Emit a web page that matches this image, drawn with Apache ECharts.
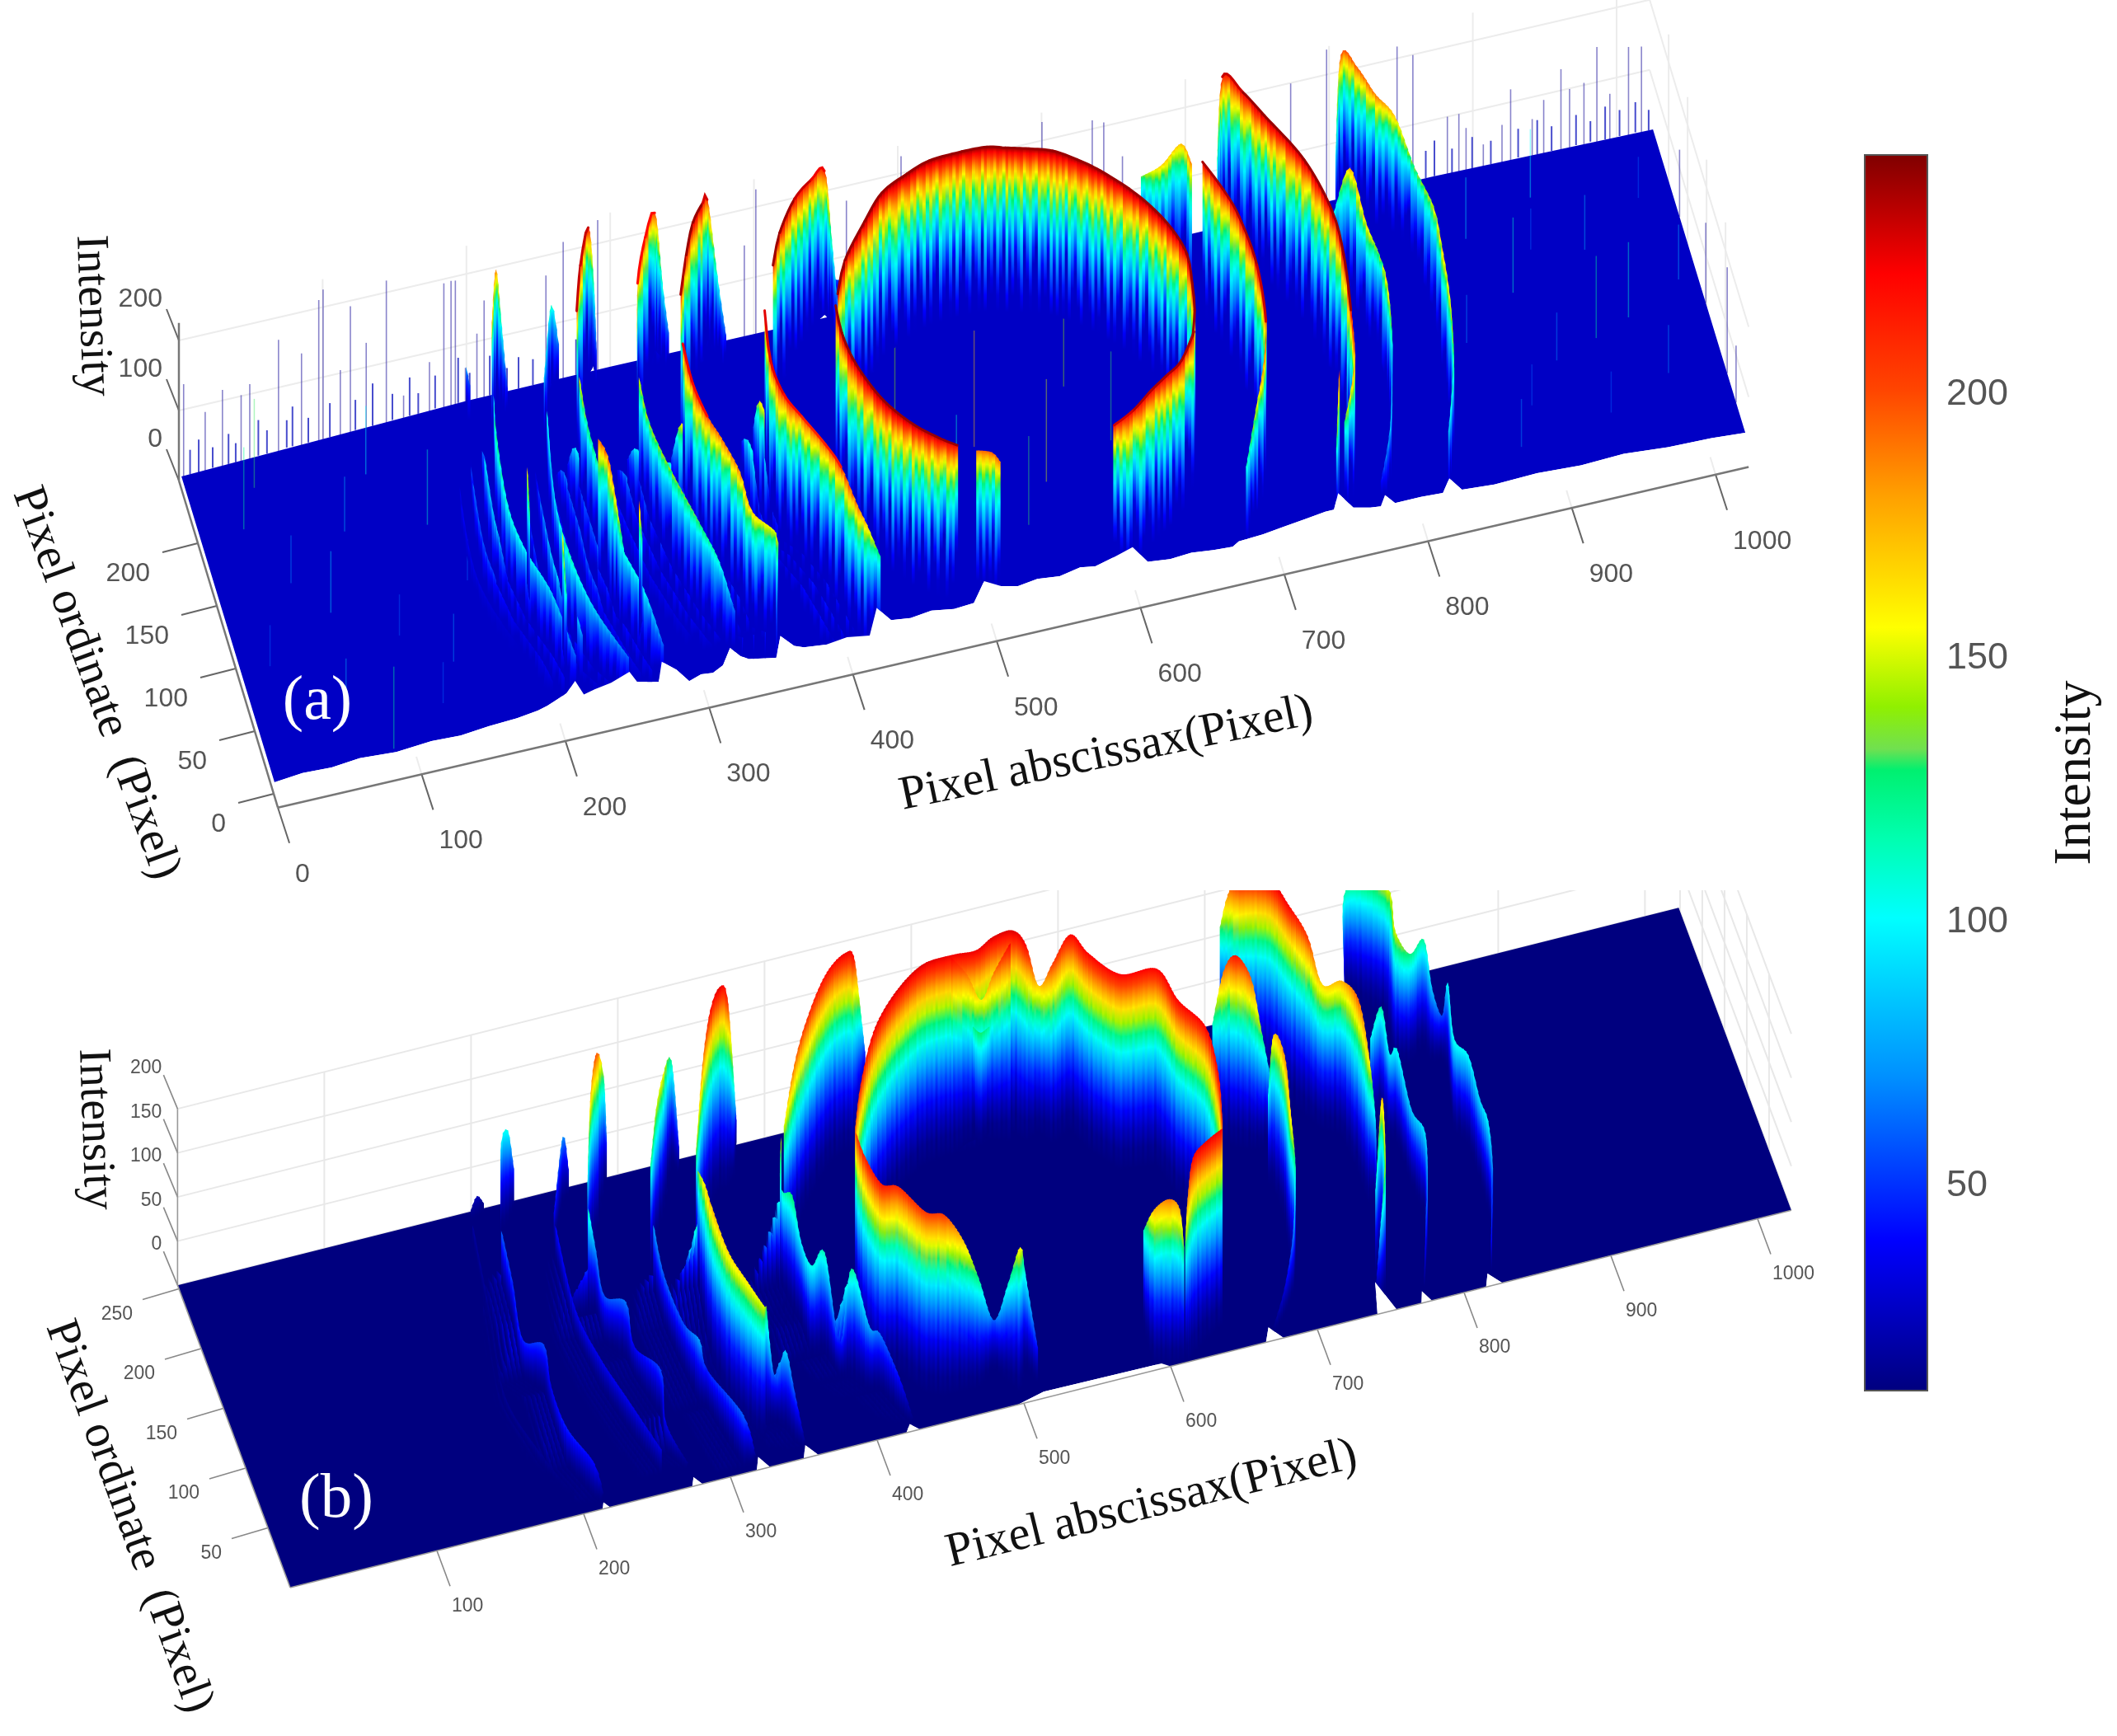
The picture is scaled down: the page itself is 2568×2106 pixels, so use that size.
<!DOCTYPE html>
<html>
<head>
<meta charset="utf-8">
<title>Intensity surfaces</title>
<style>html,body{margin:0;background:#fff}#chart{width:2568px;height:2106px}</style>
<script src="https://cdn.jsdelivr.net/npm/echarts@6/dist/echarts.min.js"></script>
</head>
<body>
<div id="chart"></div>
<script>
// colour scale
var colorValues = [10.5, 39, 70, 100, 115, 128, 132, 140, 155, 180, 200, 222, 244.5];
var colorHex = ['#00007f', '#0000ff', '#0090ff', '#00ffff', '#00ffb0', '#00f070', '#70e050', '#90f000', '#ffff00', '#ffa000', '#ff4500', '#ff0000', '#800000'];
var barTicks = [50, 100, 150, 200];

var xTicks = [0, 100, 200, 300, 400, 500, 600, 700, 800, 900, 1000];
var xTicksB = [100, 200, 300, 400, 500, 600, 700, 800, 900, 1000];
var yTicksA = [0, 50, 100, 150, 200];
var yTicksB = [50, 100, 150, 200, 250];
var zTicksA = [0, 100, 200];
var zTicksB = [0, 50, 100, 150, 200];
var streaksA = [1, .74, .93, .62, .97, .82, .68, .9, 1, .78, .64, .86, .98, .72, .91, .6, .8, 1, .7, .95, .76, .63, .99, .84, .73, .92, .66, 1, .79, .6, .88, .96, .69, .81, .93, .61, 1, .75, .85, .65, .94, .8, .6, 1, .72, .89, .67, .83, .98, .62, .79, .92, .71, .6, .95, .77, .87, .66, 1, .74];
var streaksB = [1, .97, .99, .95, 1, .96, .98, 1, .94, .99, .97, 1, .95, .98, .96, 1, .93];

// panel (a) : ridge crests as [pixel abscissa, pixel ordinate, intensity]
var aFill1 = [[322,252,40],[336,250,40]];
var aFill2 = [[360,252,40],[372,250,40]];
var aFill3 = [[455,258,50],[470,252,50]];
var aR9 = [[196,245,75],[198,243,50]];
var aR7Back = [[206,214,190],[219,254,190],[222,250,110],[223,239,40]];
var aR8Back = [[241,209,100],[258,256,115],[261,248,70]];
var aR6Back = [[260,194,215],[270,223,225],[284,256,215],[289,262,120],[287,247,50]];
var aR5Back = [[296,170,190],[307,212,200],[319,238,215],[332,263,200],[335,255,110],[336,242,60]];
var aR3BackL = [[330,185,220],[340,209,230],[350,230,235],[361,246,230],[368,261,205],[372,250,110],[374,235,50]];
var aR2BackL = [[395,188,225],[405,209,230],[422,235,225],[438,252,215],[449,259,210],[452,252,120],[452,232,50],[458,245,45]];
var aR4Right = [[797,230,110],[808,259,200],[817,249,195],[824,228,190],[835,218,170],[843,197,130],[845,152,150],[840,111,170],[836,72,160],[829,35,130],[819,8,90]];
var aR4Inner = [[786,192,100],[795,184,175],[796,144,165],[803,135,130],[797,90,170],[795,69,120],[783,25,90],[772,8,40]];
var aR3Right = [[717,239,130],[725,256,215],[734,235,225],[742,208,235],[759,167,235],[767,123,235],[766,87,235],[761,48,225],[757,23,190],[748,13,130]];
var aMid = [[664,239,130],[674,223,170],[691,236,170],[691,208,190]];
var aR2Right = [[694,189,225],[702,164,225],[707,140,225],[709,100,225],[705,60,215],[698,39,190],[690,28,150],[678,7,110]];
var aRing1Back = [[430,149,235],[441,172,238],[461,197,240],[478,216,240],[498,226,240],[515,232,240],[538,233,240],[555,232,240],[567,228,240],[582,223,240],[597,217,240],[611,206,240],[624,193,240],[639,174,240],[650,156,240],[659,135,240],[664,114,238],[662,92,235],[659,74,230],[653,56,225]];
var aRing1FrontR = [[655,60,225],[641,40,225],[628,31,225],[616,23,225],[600,12,222],[586,8,215]];
var aRing1FrontL = [[427,143,230],[425,118,235],[427,93,238],[434,68,238],[442,50,238],[454,34,235],[468,21,232],[479,16,225]];
var aSpur = [[495,27,190],[504,20,195],[508,14,190]];
var aR2FrontL = [[382,160,215],[376,120,215],[378,92,215],[387,80,200],[397,54,200],[402,31,205],[407,6,190],[412,0,170],[421,0,120]];
var aR3FrontL = [[323,152,210],[321,117,215],[326,97,200],[332,83,190],[338,56,185],[340,32,170],[354,21,150],[349,0,150]];
var aH6 = [[744,12,210],[739,0,120]];
var aR5Front = [[296,166,150],[295,134,140],[300,92,140],[309,54,130],[317,30,110],[324,16,60]];
var aR6Front = [[256,172,160],[256,151,130],[256,112,120],[255,71,110],[264,28,100],[271,3,60]];
var aH1 = [[252,105,190],[254,87,195],[254,65,170],[258,57,100]];
var aH4 = [[265,45,200],[270,57,120]];
var aR8Front = [[235,178,110],[226,123,90],[220,62,120],[229,30,90],[246,0,60]];
var aR7Front = [[205,205,100],[195,160,130],[191,112,110],[195,80,100],[205,47,90],[212,11,60]];
var aH2 = [[203,107,170],[201,93,130]];
var aH3 = [[213,50,170],[210,28,120]];
var aH5 = [[217,25,90],[219,20,70]];

// outline of the floor of (a), read along its front and back edges
var aFrontEdge = [[0,0],[20,2],[40,1],[60,3],[85,1],[110,3],[130,2],[150,4],[170,5],[185,7],[192,9],[197,11],[207,15],[215,23],[218,11],[226,13],[238,15],[252,20],[255,11],[262,9],[269,7],[275,22],[283,13],[289,2],[298,5],[306,4],[314,8],[322,20],[327,12],[332,8],[341,6],[350,4],[357,20],[364,10],[370,7],[385,5],[400,7],[415,4],[425,24],[432,12],[445,10],[460,12],[475,9],[489,10],[500,25],[510,18],[521,15],[535,17],[550,15],[565,18],[575,16],[590,20],[603,24],[610,10],[625,8],[640,9],[655,7],[668,6],[673,9],[690,10],[705,12],[720,14],[735,16],[741,16],[747,28],[754,14],[765,11],[772,10],[777,18],[782,10],[800,10],[815,9],[822,19],[828,8],[850,6],[880,7],[910,5],[940,6],[970,3],[1000,2],[1023,0]];
var aBackEdge = [[1023,250],[870,254],[700,254],[400,257],[300,258],[200,258],[100,255],[0,252]];

// thin spikes along the back and right edges of (a), and thin streaks on its floor
var aBackSpikes = [[1,250,138],[16,250,90],[28,250,116],[41,250,102],[47,250,115],[67,250,170],[83,250,142],[95,250,214],[98,250,228],[110,250,104],[117,250,194],[128,250,135],[142,250,219],[154,250,45],[172,250,85],[182,250,195],[187,250,196],[190,250,195],[197,250,64],[205,250,110],[210,250,156],[253,250,171],[265,250,214],[289,250,234],[391,250,146],[399,250,224],[462,250,176],[500,250,222],[598,250,223],[633,250,208],[641,250,201],[654,250,145],[771,250,193],[796,250,230],[845,250,210],[856,250,192],[880,250,90],[888,250,90],[893,250,67],[905,250,37],[918,250,59],[924,250,108],[939,250,57],[947,250,81],[959,250,120],[965,250,88],[975,250,92],[984,250,140],[993,250,67],[1006,250,129],[1015,250,125],[1023,178,98],[1023,107,117],[1023,49,155],[1023,25,83]];
var aEdgeFuzz = [[6,252,36],[12,252,48],[22,253,30],[33,253,44],[38,253,28],[54,254,52],[60,254,34],[74,255,40],[78,255,58],[89,255,36],[104,255,50],[122,256,44],[134,256,62],[148,257,38],[160,257,56],[166,257,30],[178,258,48],[194,258,66],[202,258,40],[216,258,58],[228,258,34],[236,258,46],[246,258,38],[276,258,52],[866,254,40],[872,254,52],[884,253,36],[898,253,46],[911,253,34],[930,253,42],[943,252,50],[953,252,36],[970,252,44],[980,252,30],[990,251,48],[1000,251,38],[1011,251,44],[1020,250,30]];
var aFloorStreaks = [[30,200,120],[50,150,70],[70,120,90],[84,4,120],[95,180,80],[110,90,60],[120,220,100],[140,60,70],[150,170,110],[165,120,60],[20,90,60],[60,40,80],[45,230,130],[125,30,60],[860,120,70],[880,200,90],[890,60,60],[900,150,110],[915,90,70],[930,220,100],[940,40,60],[955,170,80],[970,110,110],[985,60,70],[1000,200,60],[1010,130,80],[875,30,70],[945,100,120],[920,180,60],[520,130,170],[560,90,150],[540,60,130],[590,160,140],[500,100,110],[470,150,140],[610,110,130]];

// panel (b) : ridge crests
var bR8Back = [[197,244,15],[202,247,25],[207,249,12]];
var bR7Back = [[207,209,60],[214,232,100],[220,237,105],[227,247,45]];
var bR6Back = [[243,209,40],[259,242,75],[264,246,30]];
var bR5Back = [[259,186,100],[265,199,180],[273,212,205],[287,243,130],[292,253,40]];
var bR4Back = [[297,170,125],[308,194,150],[318,212,160],[335,249,120],[338,242,30]];
var bR3Back = [[326,163,140],[339,192,190],[350,211,222],[360,223,228],[365,222,215],[372,229,95],[381,255,25]];
var bR2Back = [[384,157,150],[393,168,190],[406,188,205],[423,209,218],[436,222,222],[447,227,225],[452,225,222],[463,247,130],[473,269,45]];
var bR4Right = [[784,214,85],[795,250,120],[815,224,150],[810,189,150],[819,185,125],[832,197,120],[833,182,85],[840,182,50],[841,173,100],[831,126,105],[837,113,100],[836,84,90],[834,59,100],[831,39,75],[821,7,40]];
var bR4Inner = [[780,145,100],[790,154,120],[789,132,95],[793,129,105],[792,93,85],[793,65,95],[784,31,70],[775,7,5]];
var bR3Right = [[706,239,130],[707,225,185],[711,213,215],[728,202,225],[735,180,222],[743,164,205],[749,152,165],[760,144,175],[762,113,195],[761,87,170],[766,88,90],[766,88,30]];
var bSliver = [[748,28,100],[758,47,175],[750,13,145],[745,6,85],[745,16,5]];
var bR2Right = [[683,180,110],[685,163,190],[691,155,218],[700,150,195],[706,148,140],[716,156,60]];
var bR2b = [[703,121,100],[706,119,170],[705,91,185],[699,58,170],[699,47,120],[694,33,70],[683,17,30],[670,2,8]];
var bRingBack = [[418,109,200],[428,130,215],[446,161,225],[467,184,228],[491,201,228],[513,205,225],[529,204,225],[542,209,228],[556,210,228],[562,200,222],[572,205,165],[578,193,205],[592,200,222],[599,182,222],[614,160,222],[638,157,222],[644,129,222],[655,103,222],[652,65,222],[647,40,205]];
var bRingDip = [[512,203,225],[525,210,190],[535,212,155],[542,207,190],[552,203,225]];
var bRingTongue = [[531,217,120],[532,204,130],[541,214,120]];
var bRingFrontR = [[642,22,222],[628,13,225],[617,5,222],[612,0,185],[612,5,130]];
var bHump = [[592,35,110],[590,5,175],[599,0,190],[606,0,175],[609,1,130]];
var bRingFrontL = [[417,105,200],[414,73,215],[418,50,215],[429,48,210],[441,27,205],[452,21,205],[465,21,170],[475,20,125],[489,32,55],[495,20,110],[500,9,165],[509,27,105],[513,13,40]];
var bR2Front = [[380,149,150],[376,136,110],[377,116,130],[379,103,95],[378,75,105],[387,76,115],[391,55,40],[398,52,125],[406,38,75],[413,37,65],[420,16,40],[426,3,5]];
var bR3Front = [[324,153,130],[318,117,165],[315,91,175],[317,61,165],[323,38,160],[330,22,150],[334,33,135],[340,33,50],[345,26,90],[348,14,55],[353,6,5]];
var bR4Front = [[295,157,75],[293,127,60],[295,90,55],[297,60,75],[301,56,45],[310,4,60],[319,5,5]];
var bR5Front = [[249,152,120],[254,151,70],[252,126,55],[262,110,65],[263,95,35],[270,58,55],[265,30,35],[277,8,5]];
var bR6Front = [[241,199,40],[235,136,35],[239,93,35],[247,54,35],[257,14,30]];
var bR7Front = [[202,192,60],[199,157,50],[193,115,45],[203,100,55],[202,81,35],[200,39,45],[210,9,40],[215,4,5]];
var bR8Front = [[194,230,18],[185,162,15],[175,96,15],[183,48,15],[196,10,10]];

// front edge of the floor of (b) with its small notches
var bFrontEdge = [[0,0],[213,0],[215,5],[218,0],[274,0],[277,7],[281,0],[318,0],[322,10],[327,0],[350,0],[354,10],[360,0],[420,0],[424,6],[429,0],[496,0],[515,5],[595,4],[600,0],[665,0],[670,11],[677,0],[741,0],[747,25],[754,0],[771,0],[774,9],[778,0],[815,0],[819,10],[826,0],[1023,0]];
var bBackEdge = [[1023,253],[0,253]];

var ridgesA = [aFill1, aFill2, aFill3, aR9, aR7Back, aR8Back, aR6Back, aR5Back, aR3BackL, aR2BackL, aR4Right, aR4Inner, aR3Right, aMid, aR2Right, aRing1Back, aRing1FrontR, aRing1FrontL, aSpur, aR2FrontL, aR3FrontL, aH6, aR5Front, aR6Front, aH1, aH4, aR8Front, aR7Front, aH2, aH3, aH5];
var ridgesB = [bR8Back, bR7Back, bR6Back, bR5Back, bR4Back, bR3Back, bR2Back, bR4Right, bR4Inner, bR3Right, bSliver, bR2Right, bR2b, bRingBack, bRingDip, bRingTongue, bRingFrontR, bHump, bRingFrontL, bR2Front, bR3Front, bR4Front, bR5Front, bR6Front, bR7Front, bR8Front];
var flankedA = [aR2FrontL, aR3FrontL, aR5Front, aR6Front, aR8Front, aR7Front];
var flankedB = [bR2Front, bR3Front, bR4Front, bR5Front, bR6Front, bR7Front, bR8Front];

// view of each panel
var panelA = {
    grid: 0, floor: 26, fall: 1.1, sharp: .25, sliceW: 4, crestW: 3, streaks: streaksA,
    flanks: [[-24, .3], [-16, .5], [-8, .75]],
    surf: {o: [333, 949], ex: [1.744, -.4145], ey: [-.448, -1.472], k: .83},
    frame: {o: [332, 963], ex: [1.744, -.404], ey: [-.46, -1.52], k: .85},
    xMax: 1023, yMax: 250, yMin: -11, front: aFrontEdge, back: aBackEdge, gridColor: '#ececec'
};
var panelB = {
    grid: 1, floor: 10.5, fall: 1.6, sharp: 0, sliceW: 3, crestW: 0, streaks: streaksB,
    flanks: [[-21, .15], [-18, .25], [-15, .35], [-12, .47], [-9, .6], [-6, .73], [-3, .87]],
    surf: {o: [352, 1926], ex: [1.78, -.4475], ey: [-.54, -1.45], k: 1.07},
    frame: {o: [352, 1926], ex: [1.78, -.4475], ey: [-.54, -1.45], k: 1.07},
    xMax: 1023, yMax: 253, yMin: 0, front: bFrontEdge, back: bBackEdge, gridColor: '#e8e8e8'
};

function project(v, x, y, z) {
    return [v.o[0] + x * v.ex[0] + y * v.ey[0], v.o[1] + x * v.ex[1] + y * v.ey[1] - v.k * z];
}

function jet(val) {
    if (val <= colorValues[0]) return colorHex[0];
    for (var i = 1; i < colorValues.length; i++) {
        if (val <= colorValues[i]) {
            var f = (val - colorValues[i - 1]) / (colorValues[i] - colorValues[i - 1]);
            return echarts.color.lerp(f, [colorHex[i - 1], colorHex[i]]);
        }
    }
    return colorHex[colorHex.length - 1];
}

var stopT = [0, .03, .06, .1, .14, .18, .25, .32, .4, .5, .6, .7, .8, .9, 1];
var stopCache = {};
function curtainStops(panel, val, s) {
    var key = panel.grid + '_' + Math.round(val) + '_' + s;
    if (stopCache[key]) return stopCache[key];
    var list = [];
    for (var i = 0; i < stopT.length; i++) {
        var t = Math.min(1, stopT[i] / s);
        var shape = panel.sharp * Math.pow(1 - t, 6) + (1 - panel.sharp) * Math.pow(1 - t, panel.fall);
        var v = panel.floor + Math.max(0, val - panel.floor) * shape;
        list.push({offset: stopT[i], color: jet(v)});
    }
    stopCache[key] = list;
    return list;
}

// rounded crest line between two read points, only for drawing
function spline(p0, p1, p2, p3, t) {
    var t2 = t * t, t3 = t2 * t;
    return [0, 1].map(function (d) {
        return .5 * (2 * p1[d] + (p2[d] - p0[d]) * t + (2 * p0[d] - 5 * p1[d] + 4 * p2[d] - p3[d]) * t2 + (3 * p1[d] - p0[d] - 3 * p2[d] + p3[d]) * t3);
    });
}

var streakCounter = 0;
function curtainRender(panel, ridge, dx, scale) {
    // the side copies of a band start low so that their tips do not show
    var factor = function (k) { return scale < 1 && k <= 0 ? scale * .3 : scale; };
    return function (params, api) {
        var i = params.dataIndex;
        if (i >= ridge.length - 1) return null;
        var top = function (k) {
            var n = Math.max(0, Math.min(ridge.length - 1, k));
            var r = ridge[n];
            return api.coord(project(panel.surf, r[0] + dx, r[1], r[2] * factor(n)));
        };
        var a = [api.value(0) + dx, api.value(1), api.value(2) * factor(i)];
        var b = [ridge[i + 1][0] + dx, ridge[i + 1][1], ridge[i + 1][2] * factor(i + 1)];
        var p0 = top(i - 1), ta = top(i), tb = top(i + 1), p3 = top(i + 2);
        var ba = api.coord(project(panel.surf, a[0], a[1], 0));
        var bb = api.coord(project(panel.surf, b[0], b[1], 0));
        var n = Math.max(1, Math.ceil(Math.max(Math.abs(tb[0] - ta[0]), Math.abs(tb[1] - ta[1]) / 4) / panel.sliceW));
        var dir = tb[0] >= ta[0] ? 1 : -1;
        var kids = [], crest = [];
        for (var j = 0; j < n; j++) {
            var f0 = j / n, f1 = (j + 1) / n, fm = (f0 + f1) / 2;
            var val = a[2] + (b[2] - a[2]) * fm;
            var s = panel.streaks[streakCounter % panel.streaks.length];
            streakCounter++;
            var t0 = spline(p0, ta, tb, p3, f0);
            var t1 = spline(p0, ta, tb, p3, f1);
            var b0 = [ba[0] + (bb[0] - ba[0]) * f0, ba[1] + (bb[1] - ba[1]) * f0];
            var b1 = [ba[0] + (bb[0] - ba[0]) * f1 + dir, ba[1] + (bb[1] - ba[1]) * f1];
            kids.push({
                type: 'polygon',
                shape: {points: [t0, [t1[0] + dir, t1[1]], b1, b0]},
                style: {fill: {
                    type: 'linear', x: 0, y: (t0[1] + t1[1]) / 2, x2: 0, y2: (b0[1] + b1[1]) / 2,
                    global: true, colorStops: curtainStops(panel, val, s)
                }}
            });
            crest.push(t0);
            if (j === n - 1) crest.push(t1);
        }
        if (panel.crestW && scale === 1 && a[2] >= 200 && b[2] >= 200) {
            kids.push({
                type: 'polyline',
                shape: {points: crest},
                style: {fill: null, stroke: jet(Math.min(240, (a[2] + b[2]) / 2 + 12)), lineWidth: panel.crestW, lineCap: 'round'}
            });
        }
        return {type: 'group', children: kids};
    };
}

function customSeries(panel, name, data, render) {
    return {
        type: 'custom', name: name, coordinateSystem: 'cartesian2d',
        xAxisIndex: panel.grid, yAxisIndex: panel.grid,
        clip: true, silent: true, animation: false,
        data: data, renderItem: render
    };
}

function line(p, q, color, width) {
    return {type: 'line', shape: {x1: p[0], y1: p[1], x2: q[0], y2: q[1]}, style: {stroke: color, lineWidth: width}};
}

function label(text, p, size, align) {
    return {
        type: 'text', x: p[0], y: p[1],
        style: {text: String(text), fontSize: size, fontFamily: 'Liberation Sans', fill: '#555', align: align, verticalAlign: 'middle'}
    };
}

// grid lines of the box, behind the surface
function frameSeries(panel, zLevels, xList, yList, zTop) {
    var v = panel.frame, gridColor = panel.gridColor;
    return customSeries(panel, 'box', [0], function (params, api) {
        var kids = [], c = function (x, y, z) { return api.coord(project(v, x, y, z)); };
        zLevels.forEach(function (z) {
            kids.push(line(c(0, panel.yMax, z), c(panel.xMax, panel.yMax, z), gridColor, 2));
            kids.push(line(c(panel.xMax, panel.yMax, z), c(panel.xMax, panel.yMin, z), gridColor, 2));
        });
        xList.forEach(function (x) {
            kids.push(line(c(x, panel.yMax, 0), c(x, panel.yMax, zTop), gridColor, 2));
        });
        yList.forEach(function (y) {
            kids.push(line(c(panel.xMax, y, 0), c(panel.xMax, y, zTop), gridColor, 2));
        });
        return {type: 'group', children: kids};
    });
}

function planeSeries(panel) {
    var s = panel.surf;
    return customSeries(panel, 'floor', panel.front.concat(panel.back), function (params, api) {
        if (params.dataIndex > 0) return null;
        var pts = panel.front.concat(panel.back).map(function (q) {
            return api.coord(project(s, q[0], q[1], 0));
        });
        return {type: 'polygon', shape: {points: pts}, style: {fill: jet(panel.floor)}};
    });
}

// white strip under the floor's front edge, so ridge feet end on the outline
function edgeMask(panel) {
    var s = panel.surf;
    return customSeries(panel, 'edge', panel.front, function (params, api) {
        if (params.dataIndex > 0) return null;
        var pts = panel.front.map(function (q) { return api.coord(project(s, q[0], q[1], 0)); });
        pts.push(api.coord(project(s, panel.xMax + 4, -14, 0)));
        pts.push(api.coord(project(s, -4, -14, 0)));
        return {type: 'polygon', shape: {points: pts}, style: {fill: '#fff'}};
    });
}

function thinLines(panel, name, data, color, width, opacity) {
    return customSeries(panel, name, data, function (params, api) {
        var x = api.value(0), y = api.value(1), z = api.value(2);
        var p = api.coord(project(panel.surf, x, y, 0)), q = api.coord(project(panel.surf, x, y, z));
        return {type: 'line', shape: {x1: p[0], y1: p[1], x2: q[0], y2: q[1]},
            style: {stroke: color || jet(z), lineWidth: width, opacity: opacity}};
    });
}

function axisSeries(panel, xList, yList, zList, opt) {
    var v = panel.frame;
    return customSeries(panel, 'axes', [0], function (params, api) {
        var kids = [];
        xList.forEach(function (x) {
            var p = api.coord(project(v, x, panel.yMin, 0));
            if (opt.floorLine) kids.push(line(p, api.coord(project(v, x, panel.yMin + opt.floorLine, 0)), panel.gridColor, 2));
            kids.push(line(p, [p[0] + opt.xTick[0], p[1] + opt.xTick[1]], opt.tickColor, opt.tickW));
            kids.push(label(x, [p[0] + opt.xLabel[0], p[1] + opt.xLabel[1]], opt.font, 'left'));
        });
        yList.forEach(function (y) {
            var p = api.coord(project(v, 0, y, 0));
            kids.push(line(p, [p[0] + opt.yTick[0], p[1] + opt.yTick[1]], opt.tickColor, opt.tickW));
            kids.push(label(y, [p[0] + opt.yLabel[0], p[1] + opt.yLabel[1]], opt.font, 'right'));
        });
        zList.forEach(function (z) {
            var p = api.coord(project(v, 0, panel.yMax, z));
            kids.push(line(p, [p[0] + opt.zTick[0], p[1] + opt.zTick[1]], opt.tickColor, opt.tickW));
            kids.push(label(z, [p[0] + opt.zLabel[0], p[1] + opt.zLabel[1]], opt.font, 'right'));
        });
        var c = function (x, y, z) { return api.coord(project(v, x, y, z)); };
        kids.push(line(c(0, panel.yMin, 0), c(panel.xMax, panel.yMin, 0), opt.axisColor, opt.axisW));
        kids.push(line(c(0, panel.yMin, 0), c(0, panel.yMax, 0), opt.axisColor, opt.axisW));
        kids.push(line(c(0, panel.yMax, 0), c(0, panel.yMax, opt.zTop), opt.axisColor, opt.axisW));
        return {type: 'group', children: kids};
    });
}

function pushRidges(list, panel, ridges, flanked, tag) {
    ridges.forEach(function (r, i) {
        if (flanked.indexOf(r) >= 0) {
            panel.flanks.forEach(function (f, k) {
                list.push(customSeries(panel, tag + i + 'f' + k, r, curtainRender(panel, r, f[0], f[1])));
            });
        }
        list.push(customSeries(panel, tag + i, r, curtainRender(panel, r, 0, 1)));
    });
}

var seriesList = [];
seriesList.push(frameSeries(panelA, [100, 200], xTicks.slice(1), [50, 100, 150, 200], 240));
seriesList.push(thinLines(panelA, 'edge spikes', aBackSpikes, '#3a32a8', 1.6, .6));
seriesList.push(thinLines(panelA, 'edge fuzz', aEdgeFuzz, '#1a20c0', 2, .8));
seriesList.push(planeSeries(panelA));
seriesList.push(thinLines(panelA, 'floor streaks', aFloorStreaks, null, 1.5, .4));
pushRidges(seriesList, panelA, ridgesA, flankedA, 'a');
seriesList.push(edgeMask(panelA));
seriesList.push(axisSeries(panelA, xTicks, yTicksA, zTicksA, {
    xTick: [14, 43], xLabel: [21, 81], yTick: [-43, 11], yLabel: [-58, 37], zTick: [-15, -38], zLabel: [-20, -50],
    font: 32, tickColor: '#666', tickW: 2, axisColor: '#777', axisW: 2.5, zTop: 225, floorLine: 14
}));

seriesList.push(frameSeries(panelB, [0, 50, 100, 150, 200], xTicksB, yTicksB, 200));
seriesList.push(planeSeries(panelB));
pushRidges(seriesList, panelB, ridgesB, flankedB, 'b');
seriesList.push(edgeMask(panelB));
seriesList.push(axisSeries(panelB, xTicksB, yTicksB, zTicksB, {
    xTick: [16, 43], xLabel: [18, 67], yTick: [-44, 13], yLabel: [-56, 31], zTick: [-17, -41], zLabel: [-19, -49],
    font: 23, tickColor: '#888', tickW: 1.6, axisColor: '#999', axisW: 1.6, zTop: 200, floorLine: 0
}));

// colour bar, a plain bar on its own grid
var barStops = colorValues.map(function (v, i) {
    return {offset: 1 - (v - colorValues[0]) / (colorValues[colorValues.length - 1] - colorValues[0]), color: colorHex[i]};
}).reverse();
seriesList.push({
    type: 'bar', name: 'Intensity', xAxisIndex: 2, yAxisIndex: 2, barWidth: '100%', silent: true, animation: false,
    data: [colorValues[colorValues.length - 1]],
    itemStyle: {color: new echarts.graphic.LinearGradient(0, 0, 0, 1, barStops)}
});

function hiddenX(i, max) { return {type: 'value', gridIndex: i, min: 0, max: max, show: false}; }
function hiddenY(i, min, max) { return {type: 'value', gridIndex: i, min: min, max: max, inverse: true, show: false}; }

function serifText(text, x, y, size, deg, color) {
    return {
        type: 'text', x: x, y: y, rotation: deg * Math.PI / 180, silent: true, z: 100,
        style: {text: text, fontSize: size, fontFamily: 'Liberation Serif', fill: color || '#111', align: 'center', verticalAlign: 'middle'}
    };
}

var chart = echarts.init(document.getElementById('chart'), null, {renderer: 'canvas'});
chart.setOption({
    animation: false,
    backgroundColor: '#fff',
    grid: [
        {left: 0, top: 0, width: 2568, height: 1080},
        {left: 0, top: 1080, width: 2568, height: 1026},
        {left: 2262, top: 188, width: 76, height: 1499, show: true, borderColor: '#555', borderWidth: 2, z: 10}
    ],
    xAxis: [hiddenX(0, 2568), hiddenX(1, 2568), {type: 'category', gridIndex: 2, data: [''], show: false}],
    yAxis: [hiddenY(0, 0, 1080), hiddenY(1, 1080, 2106), {
        type: 'value', gridIndex: 2, min: colorValues[0], max: colorValues[colorValues.length - 1], position: 'right',
        name: 'Intensity', nameLocation: 'middle', nameRotate: 90, nameGap: 148,
        nameTextStyle: {fontFamily: 'Liberation Serif', fontSize: 64, color: '#111'},
        axisLine: {show: true, lineStyle: {color: '#333', width: 2}},
        axisTick: {show: true, inside: true, length: 12, customValues: barTicks, lineStyle: {color: '#333', width: 2}},
        axisLabel: {
            show: true, margin: 23, fontSize: 45, fontFamily: 'Liberation Sans', color: '#555',
            // the labels sit a little under their ticks in the reference
            customValues: barTicks.map(function (v) { return v - .8; }),
            formatter: function (v) { return String(Math.round(v + .8)); }
        },
        splitLine: {show: false}
    }],
    series: seriesList,
    graphic: [
        serifText('Pixel abscissax(Pixel)', 1342, 915, 58, 11.8),
        serifText('Pixel ordinate  (Pixel)', 116, 829, 57, -70),
        serifText('Intensity', 112, 383, 56, -88),
        serifText('(a)', 385, 852, 76, 0, '#fff'),
        serifText('Pixel abscissax(Pixel)', 1397, 1825, 58, 13.7),
        serifText('Pixel ordinate  (Pixel)', 156, 1840, 57, -70),
        serifText('Intensity', 115, 1370, 56, -88),
        serifText('(b)', 408, 1820, 77, 0, '#fff')
    ]
});
</script>
</body>
</html>
